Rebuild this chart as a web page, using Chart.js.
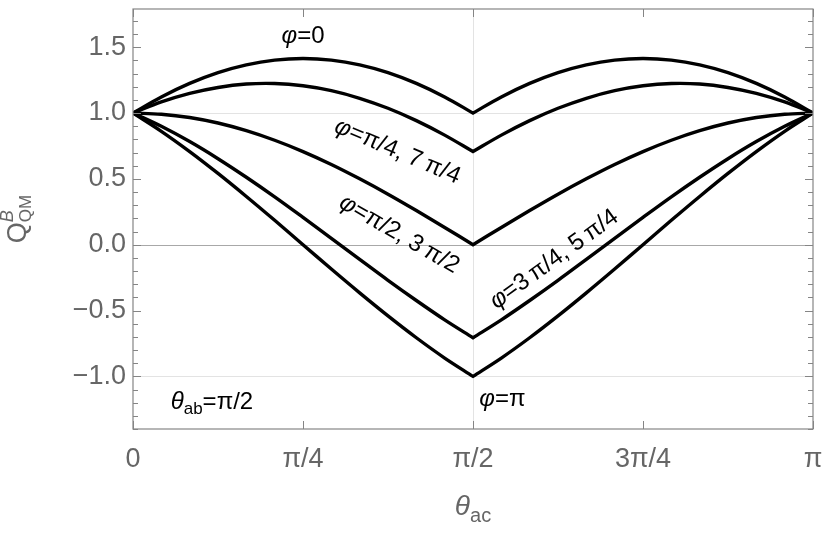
<!DOCTYPE html>
<html lang="en">
<head>
<meta charset="UTF-8">
<title>Q_QM^B vs theta_ac</title>
<script src="https://cdn.jsdelivr.net/npm/chart.js@4"></script>
<style>
  html, body { margin: 0; padding: 0; background: #fff; }
  #wrap { width: 828px; height: 534px; }
</style>
</head>
<body>
<div id="wrap"><canvas id="c" width="828" height="534"></canvas></div>
<script>
// theta_ac in degrees (cusp at 90 listed twice so the corner stays sharp)
const thetaDeg = [0, 7.5, 15, 22.5, 30, 37.5, 45, 52.5, 60, 67.5, 75, 82.5, 90,
                  90, 97.5, 105, 112.5, 120, 127.5, 135, 142.5, 150, 157.5, 165, 172.5, 180];

const qPhi0 = [1.000, 1.122, 1.225, 1.307, 1.366, 1.402, 1.414, 1.402, 1.366, 1.307, 1.225, 1.122, 1.000,
               1.000, 1.122, 1.225, 1.307, 1.366, 1.402, 1.414, 1.402, 1.366, 1.307, 1.225, 1.122, 1.000];
const qPhiPi4 = [1.000, 1.084, 1.149, 1.194, 1.220, 1.224, 1.207, 1.170, 1.112, 1.036, 0.942, 0.832, 0.707,
                 0.707, 0.832, 0.942, 1.036, 1.112, 1.170, 1.207, 1.224, 1.220, 1.194, 1.149, 1.084, 1.000];
const qPhiPi2 = [1.000, 0.991, 0.966, 0.924, 0.866, 0.793, 0.707, 0.609, 0.500, 0.383, 0.259, 0.131, 0.000,
                 0.000, 0.131, 0.259, 0.383, 0.500, 0.609, 0.707, 0.793, 0.866, 0.924, 0.966, 0.991, 1.000];
const qPhi3Pi4 = [1.000, 0.899, 0.783, 0.653, 0.512, 0.363, 0.207, 0.048, -0.112, -0.271, -0.424, -0.571, -0.707,
                  -0.707, -0.571, -0.424, -0.271, -0.112, 0.048, 0.207, 0.363, 0.512, 0.653, 0.783, 0.899, 1.000];
const qPhiPi = [1.000, 0.861, 0.707, 0.541, 0.366, 0.185, 0.000, -0.185, -0.366, -0.541, -0.707, -0.861, -1.000,
                -1.000, -0.861, -0.707, -0.541, -0.366, -0.185, 0.000, 0.185, 0.366, 0.541, 0.707, 0.861, 1.000];

const xTickVals = [0, 45, 90, 135, 180];
const xTickLabels = ['0', 'π/4', 'π/2', '3π/4', 'π'];
const yTickVals = [-1, -0.5, 0, 0.5, 1, 1.5];
const yTickLabels = ['−1.0', '−0.5', '0.0', '0.5', '1.0', '1.5'];

const FONT = '"Liberation Sans", Arial, sans-serif';
const GRAY = '#666666';

function series(ys) {
  return ys.map((v, i) => ({ x: thetaDeg[i], y: v }));
}

function line(ctx, x1, y1, x2, y2) {
  ctx.beginPath(); ctx.moveTo(x1, y1); ctx.lineTo(x2, y2); ctx.stroke();
}

// draws a row of text pieces (different fonts / offsets), rotated around (x, y)
function drawRuns(ctx, x, y, angle, runs, base, align) {
  ctx.save();
  ctx.translate(x, y);
  ctx.rotate(angle * Math.PI / 180);
  let w = 0;
  runs.forEach(r => {
    ctx.font = r.f;
    r.full = ctx.measureText(r.t).width;
    r.w = r.noAdvance ? 0 : r.full;
    w += r.w;
  });
  const last = runs[runs.length - 1];
  if (last.noAdvance) w += last.full;
  let cx = align === 'left' ? 0 : -w / 2;
  ctx.textBaseline = 'alphabetic';
  ctx.textAlign = 'left';
  runs.forEach(r => {
    ctx.font = r.f;
    ctx.fillStyle = r.c || '#000';
    ctx.fillText(r.t, cx, base + (r.dy || 0));
    cx += r.w;
  });
  ctx.restore();
}

const LS = 24;
const phi = () => ({ t: 'φ', f: `italic ${LS}px ${FONT}` });
const txt = (t, s) => ({ t, f: `${s || LS}px ${FONT}` });

const decor = {
  id: 'decor',
  beforeDatasetsDraw(chart) {
    const { ctx, chartArea: a, scales: { x, y } } = chart;
    ctx.save();
    ctx.lineWidth = 1;
    ctx.strokeStyle = '#e3e3e3';
    [1, -1].forEach(v => {
      const py = Math.round(y.getPixelForValue(v)) + 0.5;
      line(ctx, a.left, py, a.right, py);
    });
    const px = Math.round(x.getPixelForValue(90)) + 0.5;
    line(ctx, px, a.top, px, a.bottom);
    ctx.strokeStyle = '#a8a8a8';
    const p0 = Math.round(y.getPixelForValue(0)) + 0.5;
    line(ctx, a.left, p0, a.right, p0);
    ctx.restore();
  },
  afterDatasetsDraw(chart) {
    const { ctx, chartArea: a, scales: { x, y } } = chart;
    ctx.save();
    ctx.strokeStyle = '#858585';
    ctx.lineWidth = 1.2;
    ctx.strokeRect(a.left, a.top, a.right - a.left, a.bottom - a.top);
    // y ticks: major every 0.5, minor every 0.1, on both sides, pointing in
    ctx.lineWidth = 1;
    for (let k = -14; k <= 17; k++) {
      const py = Math.round(y.getPixelForValue(k / 10)) + 0.5;
      const len = (k % 5 === 0) ? 8 : 5;
      line(ctx, a.left, py, a.left + len, py);
      line(ctx, a.right, py, a.right - len, py);
    }
    xTickVals.forEach(v => {
      const px = Math.round(x.getPixelForValue(v)) + 0.5;
      line(ctx, px, a.bottom, px, a.bottom - 8);
      line(ctx, px, a.top, px, a.top + 8);
    });
    ctx.restore();

    // curve labels
    const P = (dx, dy) => [x.getPixelForValue(dx), y.getPixelForValue(dy)];
    let p;
    p = P(45, 1.60);
    drawRuns(ctx, p[0], p[1], 0, [phi(), txt('=0')], 8.5);
    p = P(70.2, 0.72);
    drawRuns(ctx, p[0], p[1], 23, [phi(), txt('=π/4, 7\u2009π/4')], 8.5);
    p = P(70.7, 0.09);
    drawRuns(ctx, p[0], p[1], 30, [phi(), txt('=π/2, 3\u2009π/2')], 8.5);
    p = P(111.2, -0.10);
    drawRuns(ctx, p[0], p[1], -36, [phi(), txt('=3\u2009π/4, 5\u2009π/4')], 8.5);
    p = P(97.8, -1.16);
    drawRuns(ctx, p[0], p[1], 0, [phi(), txt('=π')], 8.5);
    p = P(20.9, -1.185);
    drawRuns(ctx, p[0], p[1], 0, [
      { t: 'θ', f: `italic ${LS}px ${FONT}` },
      { t: 'ab', f: `17px ${FONT}`, dy: 5 },
      txt('=π/2')
    ], 8.5);

    // axis titles
    const mid = x.getPixelForValue(90);
    drawRuns(ctx, mid, 515, 0, [
      { t: 'θ', f: `italic 28px ${FONT}`, c: GRAY },
      { t: 'ac', f: `20px ${FONT}`, dy: 7, c: GRAY }
    ], 0);
    drawRuns(ctx, 26, 219, -90, [
      { t: 'Q', f: `27px ${FONT}`, c: GRAY },
      { t: 'B', f: `italic 18px ${FONT}`, dy: -13, c: GRAY, noAdvance: true },
      { t: 'QM', f: `17px ${FONT}`, dy: 5, c: GRAY, noAdvance: true }
    ], 0);
  }
};

const mk = (ys) => ({
  data: series(ys),
  borderColor: '#000',
  borderWidth: 3.4,
  pointRadius: 0,
  tension: 0.33,
  fill: false
});

new Chart(document.getElementById('c'), {
  type: 'line',
  data: {
    datasets: [mk(qPhi0), mk(qPhiPi4), mk(qPhiPi2), mk(qPhi3Pi4), mk(qPhiPi)]
  },
  options: {
    responsive: false,
    animation: false,
    devicePixelRatio: 1,
    layout: { padding: { top: 9, right: 15, left: 0, bottom: 0 } },
    plugins: { legend: { display: false }, tooltip: { enabled: false } },
    scales: {
      x: {
        type: 'linear',
        min: 0,
        max: 180,
        grid: { display: false, drawTicks: false },
        border: { display: false },
        afterBuildTicks: s => { s.ticks = xTickVals.map(v => ({ value: v })); },
        afterFit: s => { s.height = 105; s.paddingLeft = 0; s.paddingRight = 0; },
        ticks: {
          autoSkip: false,
          maxRotation: 0,
          padding: 14,
          color: GRAY,
          font: { family: FONT, size: 27 },
          callback: v => xTickLabels[xTickVals.indexOf(v)]
        }
      },
      y: {
        type: 'linear',
        min: -1.4,
        max: 1.79,
        grid: { display: false, drawTicks: false },
        border: { display: false },
        afterBuildTicks: s => { s.ticks = yTickVals.map(v => ({ value: v })); },
        afterFit: s => { s.width = 133; s.paddingTop = 0; s.paddingBottom = 0; },
        ticks: {
          padding: 7,
          color: GRAY,
          font: { family: FONT, size: 27 },
          callback: v => yTickLabels[yTickVals.indexOf(v)]
        }
      }
    }
  },
  plugins: [decor]
});
</script>
</body>
</html>
